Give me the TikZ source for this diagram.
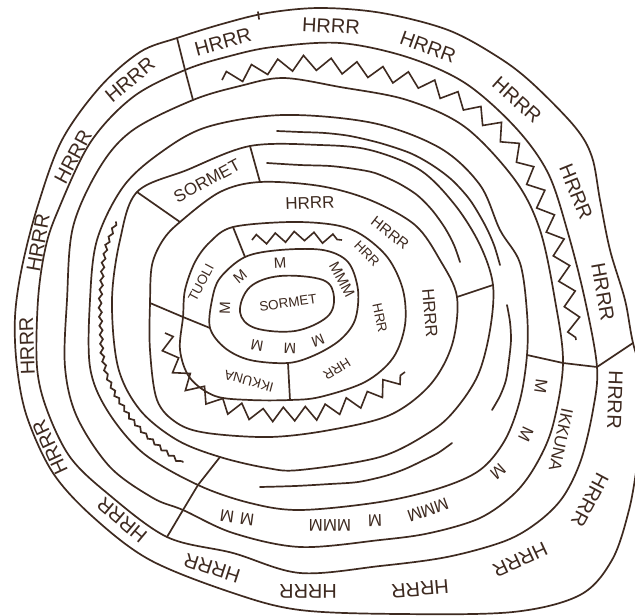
\documentclass[tikz,border=0pt]{standalone}
\usepackage{fontspec}
\setmainfont{Liberation Sans}
\usetikzlibrary{decorations.pathmorphing}
\definecolor{ink}{RGB}{62,42,32}
\begin{document}
\begin{tikzpicture}[x=1pt,y=-1pt,
  ring/.style={draw=ink,line width=1.7pt,line join=round},
  divider/.style={draw=ink,line width=1.7pt,line cap=round},
  openstroke/.style={draw=ink,line width=1.7pt,line cap=round},
  wavystroke/.style={draw=ink,line width=1.7pt,line cap=round,decorate,decoration={snake,amplitude=1.5pt,segment length=9pt}},
  zigtop/.style={draw=ink,line width=1.6pt,line join=miter,decorate,decoration={zigzag,amplitude=7pt,segment length=26pt}},
  ziglow/.style={draw=ink,line width=1.6pt,line join=miter,decorate,decoration={zigzag,amplitude=7pt,segment length=22pt}},
  ziginner/.style={draw=ink,line width=1.6pt,line join=miter,decorate,decoration={zigzag,amplitude=5pt,segment length=19pt}},
  lo/.style={text=ink,inner sep=0pt,font=\fontsize{20pt}{20pt}\selectfont},
  lm/.style={text=ink,inner sep=0pt,font=\fontsize{17pt}{17pt}\selectfont},
  ls/.style={text=ink,inner sep=0pt,font=\fontsize{15pt}{15pt}\selectfont},
  lxs/.style={text=ink,inner sep=0pt,font=\fontsize{13.5pt}{13.5pt}\selectfont},
]
\fill[white] (0,0) rectangle (635,616);
\useasboundingbox (0,0) rectangle (635,616);
\clip (0,0) rectangle (635,616);

% ---------- rings ----------
% outer
\draw[ring] plot[smooth cycle,tension=0.55] coordinates {(177,38) (222,24) (267,13) (320,8) (382,13) (448,30) (498,57) (532,83) (575,127) (592,157) (600,200) (610,250) (625,300) (633,343) (648,400) (638,460) (629,510) (612,560) (580,595) (513,612) (400,614) (300,610) (233,593) (150,560) (93,517) (53,473) (27,417) (17,367) (15,317) (22,267) (38,205) (62,140) (100,87) (140,52)};
% N
\draw[ring] plot[smooth cycle,tension=0.55] coordinates {(185,70) (230,56) (273,47) (340,43) (407,57) (465,83) (515,127) (548,173) (568,233) (585,300) (597,367) (593,410) (581,460) (563,497) (538,522) (505,541) (447,557) (380,566) (300,573) (233,553) (167,537) (107,493) (70,457) (47,410) (37,367) (38,300) (45,250) (57,213) (90,143) (133,97)};
% F1
\draw[ring] plot[smooth cycle,tension=0.55] coordinates {(193,100) (240,86) (283,78) (340,87) (407,100) (465,127) (515,180) (540,230) (555,300) (563,363) (553,425) (537,463) (515,493) (480,518) (430,533) (380,540) (300,547) (233,533) (183,510) (153,498) (110,467) (77,417) (65,367) (67,300) (73,227) (100,167) (133,130)};
% F2
\draw[ring] plot[smooth cycle,tension=0.55] coordinates {(207,127) (283,115) (373,123) (440,148) (480,185) (500,230) (520,263) (527,313) (527,355) (520,400) (505,440) (480,470) (440,488) (380,502) (300,510) (250,503) (198,485) (143,453) (107,410) (90,367) (90,300) (97,240) (123,187) (160,153)};
% E
\draw[ring] plot[smooth cycle,tension=0.55] coordinates {(250,146) (320,145) (370,150) (420,170) (455,205) (480,245) (493,285) (490,330) (478,375) (455,410) (430,432) (380,457) (300,470) (267,468) (220,457) (177,440) (140,410) (118,367) (112,300) (120,240) (137,192) (187,170)};
% D
\draw[ring] plot[smooth cycle,tension=0.55] coordinates {(180,222) (220,192) (260,182) (320,186) (370,200) (415,225) (440,260) (457,297) (452,345) (430,385) (390,415) (330,430) (270,437) (207,433) (177,423) (157,400) (150,350) (150,303) (152,265) (163,240)};
% C
\draw[ring] plot[smooth cycle,tension=0.55] coordinates {(183,317) (185,290) (195,262) (210,242) (233,227) (290,222) (335,225) (362,235) (388,258) (403,290) (405,325) (393,358) (365,382) (320,397) (290,400) (250,400) (215,396) (190,378) (180,350)};
% B
\draw[ring] plot[smooth cycle,tension=0.55] coordinates {(210,328) (212,300) (220,278) (245,257) (280,250) (323,250) (348,262) (358,290) (355,320) (340,340) (315,355) (288,363) (250,360) (225,348)};
% A
\draw[ring] plot[smooth cycle,tension=0.6] coordinates {(240,312) (250,287) (280,276) (323,280) (334,297) (327,317) (295,331) (255,328)};

% ---------- divider points ----------
\coordinate (tlO) at (177,38);  \coordinate (tlN) at (185,70);  \coordinate (tlF) at (193,100);
\coordinate (rF2) at (527,355); \coordinate (rF1) at (563,363); \coordinate (rN) at (597,367); \coordinate (rO) at (633,343);
\coordinate (blE) at (220,457); \coordinate (blF2) at (198,485); \coordinate (blF1) at (183,510); \coordinate (blN) at (167,537);
\coordinate (s1E) at (137,192); \coordinate (s1D) at (180,222);
\coordinate (s2E) at (250,146); \coordinate (s2D) at (260,182);
\coordinate (rD) at (457,297);  \coordinate (rE) at (493,285);
\coordinate (lD) at (150,303);  \coordinate (lC) at (183,317);  \coordinate (lB) at (210,328);
\coordinate (tC) at (233,227);  \coordinate (tB) at (245,257);
\coordinate (bB) at (288,363);  \coordinate (bC) at (290,400);
\coordinate (tk1) at (258,12);  \coordinate (tk2) at (259,19);

\draw[divider] (tlO) -- (tlN) -- (tlF);
\draw[divider] (rF2) -- (rF1) -- (rN) -- (rO);
\draw[divider] (blE) -- (blF2) -- (blF1) -- (blN);
\draw[divider] (s1E) -- (s1D);
\draw[divider] (s2E) -- (s2D);
\draw[divider] (rD) -- (rE);
\draw[divider] (lD) -- (lC) -- (lB);
\draw[divider] (tC) -- (tB);
\draw[divider] (bB) -- (bC);
\draw[divider] (tk1) -- (tk2);

% ---------- open strokes ----------
\draw[openstroke] plot[smooth] coordinates {(277,131) (300,132) (325,133) (350,136) (380,143) (410,153) (432,165) (452,180) (470,200) (485,225) (494,245) (500,265)};
\draw[openstroke] plot[smooth] coordinates {(267,163) (300,165) (330,166) (355,169) (375,173) (398,183) (417,195) (432,210) (445,228) (454,245) (460,262)};
\draw[openstroke] plot[smooth] coordinates {(507,305) (510,322) (511,340) (509,360) (506,380) (500,396) (492,410)};
\draw[openstroke] plot[smooth] coordinates {(260,487) (295,486) (330,484) (358,482) (385,476) (405,469) (422,461) (438,453) (452,443)};
\draw[wavystroke] (116,222) -- (108,242) -- (104,262) -- (101,300) -- (103,350) -- (108,375) -- (117,395) -- (130,415) -- (145,432) -- (165,449) -- (183,462);

% ---------- zigzags ----------
\draw[zigtop] (222,80) -- (265,68) -- (307,62) -- (365,70) -- (423,82) -- (465,103) -- (500,130) -- (522,158) -- (537,190) -- (557,240) -- (570,300) -- (576,340);
\draw[ziglow] (165,333) -- (172,360) -- (190,385) -- (220,405) -- (260,415) -- (320,413) -- (370,398) -- (405,372);
\draw[ziginner] (252,240) -- (300,236) -- (342,240);

% ---------- outer band labels ----------
\node[lo,rotate=15]   (h1)  at (223,42)  {HRRR};
\node[lo,rotate=-3]   (h2)  at (331,26)  {HRRR};
\node[lo,rotate=-20]  (h3)  at (428,47)  {HRRR};
\node[lo,rotate=-42]  (h4)  at (517,100) {HRRR};
\node[lo,rotate=-68]  (h5)  at (576,192) {HRRR};
\node[lo,rotate=-80]  (h6)  at (603,292) {HRRR};
\node[lo,rotate=-92]  (h7)  at (615,400) {HRRR};
\node[lo,rotate=-118] (h8)  at (590,500) {HRRR};
\node[lo,rotate=-155] (h9)  at (520,560) {HRRR};
\node[lo,rotate=-175] (h10) at (420,589) {HRRR};
\node[lo,rotate=180]  (h11) at (308,591) {HRRR};
\node[lo,rotate=162]  (h12) at (212,568) {HRRR};
\node[lo,rotate=140]  (h13) at (122,520) {HRRR};
\node[lo,rotate=115]  (h14) at (50,447)  {HRRR};
\node[lo,rotate=92]   (h15) at (27,346)  {HRRR};
\node[lo,rotate=80]   (h16) at (38,243)  {HRRR};
\node[lo,rotate=62]   (h17) at (73,157)  {HRRR};
\node[lo,rotate=40]   (h18) at (130,80)  {HRRR};

% ---------- N-F1 band ----------
\node[lm,rotate=-102] (ik2) at (561,440) {IKKUNA};

% ---------- F1-F2 band ----------
\node[lm,rotate=172]  (m1) at (237,518) {M\hspace{6pt}M};
\node[lm,rotate=180]  (m2) at (330,525) {MMM};
\node[lm,rotate=-178] (m3) at (375,521) {M};
\node[lm,rotate=-160] (m4) at (428,510) {MMM};
\node[lm,rotate=-138] (m5) at (498,472) {M};
\node[lm,rotate=-115] (m6) at (526,434) {M};
\node[lm,rotate=-98]  (m7) at (541,386) {M};

% ---------- E-D band ----------
\node[lm,rotate=28] (sorm2) at (207,181) {SORMET};

% ---------- D-C band ----------
\node[lm,rotate=2]   (hd1) at (310,203) {HRRR};
\node[ls,rotate=-38] (hd2) at (390,233) {HRRR};
\node[lm,rotate=-85] (hd3) at (430,313) {HRRR};

% ---------- C-B band ----------
\node[lxs,rotate=62]   (tuoli) at (201,283) {TUOLI};
\node[lxs,rotate=-45] (hc1) at (367,254) {HRR};
\node[lxs,rotate=-78] (hc2) at (380,318) {HRR};
\node[lxs,rotate=-148] (hc3) at (337,369) {HRR};
\node[lxs,rotate=165]  (ik1) at (249,381) {IKKUNA};

% ---------- B-A band ----------
\node[ls,rotate=88]   (ma1) at (225,308) {M};
\node[ls,rotate=40]   (ma2) at (240,277) {M};
\node[ls,rotate=3]    (ma3) at (280,263) {M};
\node[ls,rotate=-62]  (ma4) at (342,280) {MMM};
\node[ls,rotate=-158] (ma5) at (318,341) {M};
\node[ls,rotate=178]  (ma6) at (290,348) {M};
\node[ls,rotate=170]  (ma7) at (257,345) {M};

% ---------- centre ----------
\node[lxs,rotate=8] (sorm1) at (288,303) {SORMET};
\end{tikzpicture}
\end{document}
